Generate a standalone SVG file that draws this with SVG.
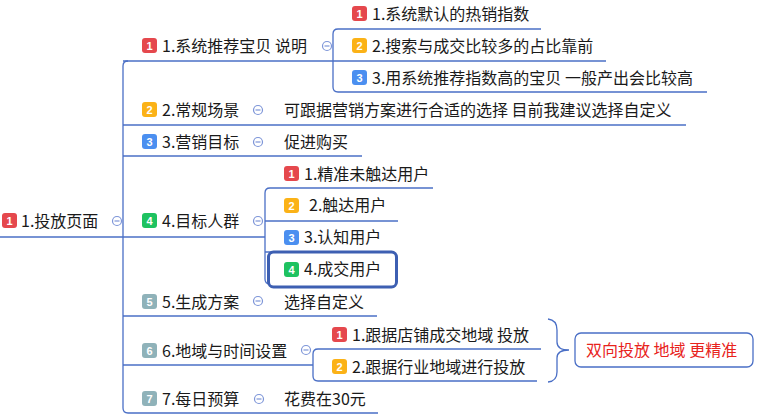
<svg xmlns="http://www.w3.org/2000/svg" width="764" height="418" viewBox="0 0 764 418">
<style>
.t{font-family:"Noto Sans CJK SC","Noto Sans",sans-serif;font-size:16px;fill:#1a1a1a}
.r{font-family:"Noto Sans CJK SC","Noto Sans",sans-serif;font-size:16px;fill:#e8231c}
.bn{font-family:"Liberation Sans",Arial,sans-serif;font-size:11px;font-weight:bold;fill:#fff;text-anchor:middle}
.ln{fill:none;stroke:#4a6fc6;stroke-width:1.3}
.tg{fill:#fff;stroke:#7d95d8;stroke-width:1.2}
.b1{fill:#e5484d}.b2{fill:#fbb217}.b3{fill:#4b8ff0}.b4{fill:#1ec260}.b5{fill:#8fb2b9}
</style>
<defs>
<g id="tog"><circle cx="0" cy="0" r="4.5" class="tg"/><line x1="-2.5" y1="0" x2="2.5" y2="0" stroke="#7d95d8" stroke-width="1.2"/></g>
</defs>
<g id="connectors">
<path class="ln" d="M0,237 H123"/>
<path class="ln" d="M128,61 Q123,61 123,66 V408 Q123,413 128,413 H378"/>
<path class="ln" d="M123,61 H333"/>
<path class="ln" d="M123,125 H686"/>
<path class="ln" d="M123,156 H362"/>
<path class="ln" d="M123,237 H265"/>
<path class="ln" d="M123,316 H377"/>
<path class="ln" d="M123,365 H313"/>
<path class="ln" d="M338,29 Q333,29 333,34 V87 Q333,92 338,92 H707"/>
<path class="ln" d="M338,29 H541"/>
<path class="ln" d="M333,61 H606"/>
<path class="ln" d="M270,188 Q265,188 265,193 V279 Q265,284 270,284 H300"/>
<path class="ln" d="M270,188 H433"/>
<path class="ln" d="M265,221 H398"/>
<path class="ln" d="M265,252 H300"/>
<path class="ln" d="M318,349 Q313,349 313,354 V376 Q313,381 318,381 H537"/>
<path class="ln" d="M318,349 H541"/>
<path class="ln" d="M548,319 Q557,320 557,330 V342 Q557,350 569,350 Q557,350 557,358 V372 Q557,381 548,382"/>
</g>
<g id="root">
<rect x="2" y="213" width="15" height="15" rx="3" class="b1"/><text x="9.5" y="224.5" class="bn">1</text>
<text x="21" y="227" class="t">1.投放页面</text>
<use href="#tog" x="117" y="221"/>
</g>
<g id="n1">
<rect x="142" y="38" width="15" height="15" rx="3" class="b1"/><text x="149.5" y="49.5" class="bn">1</text>
<text x="162" y="52" class="t">1.系统推荐宝贝 说明</text>
<use href="#tog" x="327" y="46"/>
</g>
<g id="n1-1">
<rect x="352" y="6" width="15" height="15" rx="3" class="b1"/><text x="359.5" y="17.5" class="bn">1</text>
<text x="372" y="20" class="t">1.系统默认的热销指数</text>
</g>
<g id="n1-2">
<rect x="352" y="38" width="15" height="15" rx="3" class="b2"/><text x="359.5" y="49.5" class="bn">2</text>
<text x="372" y="52" class="t">2.搜索与成交比较多的占比靠前</text>
</g>
<g id="n1-3">
<rect x="352" y="70" width="15" height="15" rx="3" class="b3"/><text x="359.5" y="81.5" class="bn">3</text>
<text x="372" y="84" class="t">3.用系统推荐指数高的宝贝 一般产出会比较高</text>
</g>
<g id="n2">
<rect x="142" y="102" width="15" height="15" rx="3" class="b2"/><text x="149.5" y="113.5" class="bn">2</text>
<text x="162" y="116" class="t">2.常规场景</text>
<use href="#tog" x="258" y="110"/>
<text x="284" y="116" class="t">可跟据营销方案进行合适的选择 目前我建议选择自定义</text>
</g>
<g id="n3">
<rect x="142" y="134" width="15" height="15" rx="3" class="b3"/><text x="149.5" y="145.5" class="bn">3</text>
<text x="162" y="148" class="t">3.营销目标</text>
<use href="#tog" x="258" y="142"/>
<text x="284" y="148" class="t">促进购买</text>
</g>
<g id="n4">
<rect x="142" y="213" width="15" height="15" rx="3" class="b4"/><text x="149.5" y="224.5" class="bn">4</text>
<text x="162" y="227" class="t">4.目标人群</text>
<use href="#tog" x="258" y="221"/>
</g>
<g id="n4-1">
<rect x="284" y="166" width="15" height="15" rx="3" class="b1"/><text x="291.5" y="177.5" class="bn">1</text>
<text x="304" y="180" class="t">1.精准未触达用户</text>
</g>
<g id="n4-2">
<rect x="284" y="198" width="15" height="15" rx="3" class="b2"/><text x="291.5" y="209.5" class="bn">2</text>
<text x="309" y="211" class="t">2.触达用户</text>
</g>
<g id="n4-3">
<rect x="284" y="230" width="15" height="15" rx="3" class="b3"/><text x="291.5" y="241.5" class="bn">3</text>
<text x="304" y="243" class="t">3.认知用户</text>
</g>
<g id="n4-4">
<rect x="268.5" y="252" width="128" height="35" rx="5" fill="#fff" stroke="#3d5fb2" stroke-width="3"/>
<rect x="284" y="262" width="15" height="15" rx="3" class="b4"/><text x="291.5" y="273.5" class="bn">4</text>
<text x="304" y="275" class="t">4.成交用户</text>
</g>
<g id="n5">
<rect x="142" y="294" width="15" height="15" rx="3" class="b5"/><text x="149.5" y="305.5" class="bn">5</text>
<text x="162" y="308" class="t">5.生成方案</text>
<use href="#tog" x="258" y="301"/>
<text x="284" y="308" class="t">选择自定义</text>
</g>
<g id="n6">
<rect x="142" y="343" width="15" height="15" rx="3" class="b5"/><text x="149.5" y="354.5" class="bn">6</text>
<text x="162" y="357" class="t">6.地域与时间设置</text>
<use href="#tog" x="306" y="350"/>
</g>
<g id="n6-1">
<rect x="332" y="327" width="15" height="15" rx="3" class="b1"/><text x="339.5" y="338.5" class="bn">1</text>
<text x="352" y="341" class="t">1.跟据店铺成交地域 投放</text>
</g>
<g id="n6-2">
<rect x="332" y="359" width="15" height="15" rx="3" class="b2"/><text x="339.5" y="370.5" class="bn">2</text>
<text x="352" y="373" class="t">2.跟据行业地域进行投放</text>
</g>
<g id="summary">
<rect x="575" y="333" width="178" height="34" rx="6" fill="#fff" stroke="#4a6fc6" stroke-width="1.3"/>
<text x="586" y="356" class="r">双向投放 地域 更精准</text>
</g>
<g id="n7">
<rect x="142" y="391" width="15" height="15" rx="3" class="b5"/><text x="149.5" y="402.5" class="bn">7</text>
<text x="162" y="405" class="t">7.每日预算</text>
<use href="#tog" x="259" y="399"/>
<text x="284" y="405" class="t">花费在30元</text>
</g>
</svg>
